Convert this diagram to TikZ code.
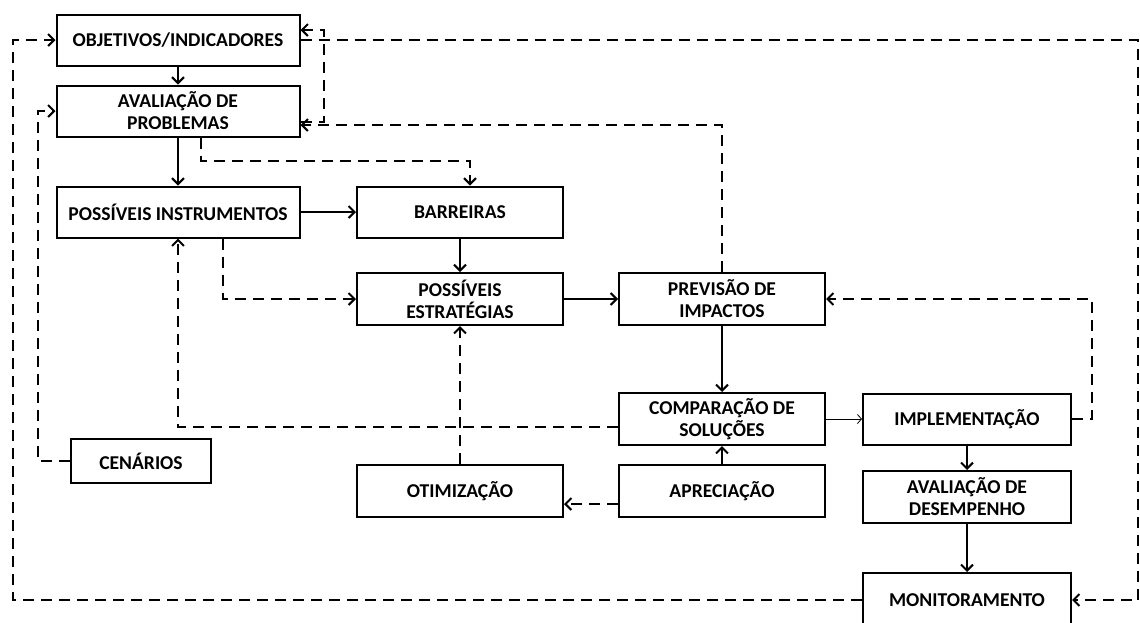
\documentclass[tikz,border=0pt]{standalone}
\usepackage{fontspec}
\setmainfont{Carlito}
\usetikzlibrary{arrows.meta}

\begin{document}
\begin{tikzpicture}[
  x=1pt,
  y=-1pt,
  every node/.style={font=\fontsize{19.6}{22}\selectfont\bfseries, black},
  box/.style={draw, line width=2pt, align=center, inner sep=2pt,
              minimum width=206pt, minimum height=52pt},
  flow/.style={line width=2pt, -{Straight Barb[length=6pt,width=12pt,line width=2pt]}},
  thinflow/.style={line width=0.8pt, -{Straight Barb[length=4pt,width=9pt,line width=0.8pt]}},
  loop/.style={line width=2pt, dash pattern=on 11pt off 7pt,
               -{Straight Barb[length=6pt,width=12pt,line width=2pt]}}
]
  \useasboundingbox (0,0) rectangle (1140,622);

  % ---- boxes ----
  \node[box, minimum width=243pt, minimum height=51pt] (obj)   at (178,40)  {OBJETIVOS/INDICADORES};
  \node[box, minimum width=243pt, minimum height=51pt] (aval)  at (178,111) {AVALIAÇÃO DE\\PROBLEMAS};
  \node[box, minimum width=243pt, minimum height=51pt] (instr) at (178,212) {POSSÍVEIS INSTRUMENTOS};
  \node[box, minimum height=51pt] (barr)  at (460,212) {BARREIRAS};
  \node[box] (estr)  at (460,299) {POSSÍVEIS\\ESTRATÉGIAS};
  \node[box] (prev)  at (722,299) {PREVISÃO DE\\IMPACTOS};
  \node[box] (comp)  at (722,419) {COMPARAÇÃO DE\\SOLUÇÕES};
  \node[box, minimum width=208pt, minimum height=51pt] (impl) at (967,419) {IMPLEMENTAÇÃO};
  \node[box, minimum width=140pt, minimum height=44pt] (cen)  at (141,461) {CENÁRIOS};
  \node[box] (otim)  at (460,491) {OTIMIZAÇÃO};
  \node[box] (aprec) at (722,491) {APRECIAÇÃO};
  \node[box, minimum width=208pt] (desemp) at (967,497) {AVALIAÇÃO DE\\DESEMPENHO};
  \node[box, minimum width=208pt, minimum height=54pt] (monit) at (967,600) {MONITORAMENTO};

  % ---- corner points of the long dashed loops ----
  \coordinate (ne) at (1138,40);
  \coordinate (sw) at (13,600);
  \coordinate (cw) at (38,461);

  % ---- main flow ----
  \draw[flow] (obj) -- (aval);
  \draw[flow] (aval) -- (instr);
  \draw[flow] (instr) -- (barr);
  \draw[flow] (barr) -- (estr);
  \draw[flow, line width=2.4pt] (estr) -- (prev);
  \draw[flow] (prev) -- (comp);
  \draw[thinflow] (comp) -- (impl);
  \draw[flow] (impl) -- (desemp);
  \draw[flow] (desemp) -- (monit);
  \draw[flow, line width=1.4pt] (aprec) -- (comp);

  % ---- dashed feedback ----
  \draw[loop] ([yshift=-13pt]aprec.west) -- ([yshift=-13pt]otim.east);
  \draw[loop] (otim) -- (estr);
  \draw[loop] ([yshift=-8pt]comp.west) -| (instr.south);
  \draw[loop] ([xshift=45pt]instr.south) |- (estr.west);
  \draw[loop] ([xshift=23pt]aval.south) -- ++(0,23) -| ([xshift=10pt]barr.north);
  \draw[loop] (prev.north) |- ([yshift=-14pt]aval.east);
  \draw[loop] ([yshift=-11pt]aval.east) -- ++(23,0) |- ([yshift=10pt]obj.east);
  \draw[loop] (obj.east) -- (ne) |- (monit.east);
  \draw[loop] (monit.west) -- (sw) |- (obj.west);
  \draw[loop] (cen.west) -- (cw) |- (aval.west);
  \draw[loop] (impl.east) -- ++(20,0) |- (prev.east);
\end{tikzpicture}
\end{document}
